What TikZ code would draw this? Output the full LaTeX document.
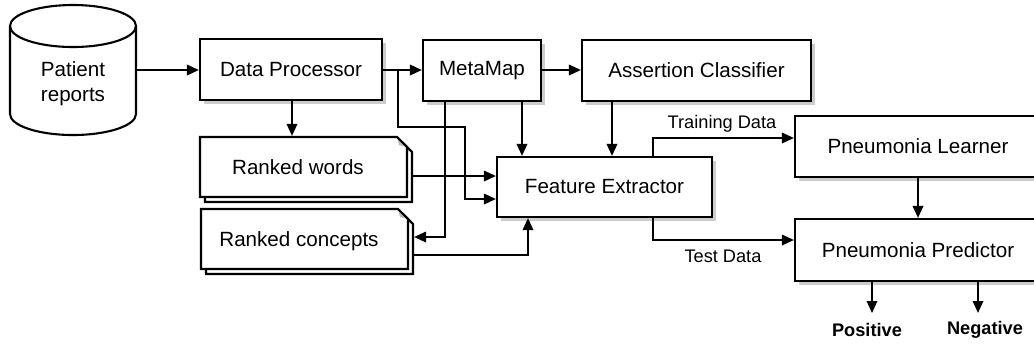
\documentclass[tikz,border=0pt]{standalone}
\usepackage{fontspec}
\setmainfont{Liberation Sans}
\usetikzlibrary{arrows.meta,shadows,calc}
\newcommand\docstack[4]{%
  \filldraw[fill=white] (#1,#2) -- (#3-10,#2) -- (#3,#2+10) -- (#3,#4) -- (#1,#4) -- cycle;
  \fill[gray!55] (#3-10,#2) -- (#3,#2+10) -- (#3-8,#2+8) -- cycle;
  \draw (#3-10,#2) -- (#3,#2+10);
}
\begin{document}
\begin{tikzpicture}[x=0.5pt,y=-0.5pt,line width=1.05pt,
  box/.style={draw, fill=white, line width=1.05pt, inner sep=0pt,
    font=\fontsize{10.3}{12.5}\selectfont,
    drop shadow={shadow xshift=1.8pt,shadow yshift=-1.8pt,opacity=0.4}},
  txt/.style={inner sep=0pt, font=\fontsize{10.3}{12.5}\selectfont, align=center},
  lbl/.style={inner sep=0pt, font=\fontsize{9.1}{11}\selectfont},
  blbl/.style={inner sep=0pt, font=\fontsize{9.1}{11}\selectfont\bfseries},
  arr/.style={-{Triangle[length=6pt,width=5.2pt]}},
  hidden/.style={draw=none, inner sep=0pt}]
\fill[white] (0,0) rectangle (1034,345);
\useasboundingbox (0,0) rectangle (1034,345);

% cylinder
\filldraw[fill=white] (10,26) -- (10,114) arc[start angle=180, end angle=360, x radius=31.5pt, y radius=10.5pt] -- (136,26);
\draw (73,26) ellipse [x radius=31.5pt, y radius=10.5pt];
\node[hidden, minimum width=63pt, minimum height=65pt] (cyl) at (73,70) {};
\node[txt] (pr) at (73,84) {Patient\\reports};

% boxes
\node[box, minimum width=91pt, minimum height=30.5pt] (dp) at (291,69.5) {Data Processor};
\node[box, minimum width=59pt, minimum height=30.5pt] (mm) at (482,70.5) {MetaMap};
\node[box, minimum width=114.5pt, minimum height=30.5pt] (ac) at (696.5,70.5) {Assertion Classifier};
\node[box, minimum width=107.5pt, minimum height=30pt] (fe) at (604.5,187) {Feature Extractor};
\node[box, minimum width=123pt, minimum height=30.5pt] (pl) at (918,146.5) {Pneumonia Learner};
\node[box, minimum width=123pt, minimum height=31pt] (pp) at (918,250) {Pneumonia Predictor};

% documents
\docstack{205}{142}{412}{202}
\docstack{200}{137}{407}{197}
\node[hidden, minimum width=106pt, minimum height=32.5pt] (rw) at (306,169.5) {};
\node[txt] (rwt) at (298,167) {Ranked words};
\docstack{206}{214}{413}{274}
\docstack{201}{209}{408}{269}
\node[hidden, minimum width=106pt, minimum height=32.5pt] (rc) at (307,241.5) {};
\node[txt] (rct) at (299,241) {Ranked concepts};

% connectors
\draw[arr] (cyl.east) -- (cyl.east -| dp.west);
\draw[arr] (dp.east |- 0,70) -- (mm.west |- 0,70);
\coordinate (j1) at (398,70);
\draw[arr] (j1) -- (398,127) -- (465,127) -- (465,199) -- (fe.west |- 0,199);
\draw[arr] (dp.south -| 292,0) -- (rw.north -| 292,0);
\draw[arr] (rw.east |- 0,176) -- (fe.west |- 0,176);
\draw[arr] (mm.south -| 445,0) -- (445,237) -- (rc.east |- 0,237);
\draw[arr] (mm.south -| 522,0) -- (fe.north -| 522,0);
\draw[arr] (mm.east |- 0,70) -- (ac.west |- 0,70);
\draw[arr] (ac.south -| 612,0) -- (fe.north -| 612,0);
\draw[arr] (rc.east |- 0,255) -- (528,255) -- (fe.south -| 528,0);
\draw[arr] (fe.north -| 653,0) -- (653,138) -- (pl.west |- 0,138);
\node[lbl] (trd) at (722,124) {Training Data};
\draw[arr] (fe.south -| 653,0) -- (653,240) -- (pp.west |- 0,240);
\node[lbl] (ted) at (723,256) {Test Data};
\draw[arr] (pl.south) -- (pp.north);
\node[blbl] (pos) at (867,330) {Positive};
\node[blbl] (neg) at (985,330) {Negative};
\draw[arr] (pp.south -| 872,0) -- (872,313);
\draw[arr] (pp.south -| 978,0) -- (978,313);
\end{tikzpicture}
\end{document}
